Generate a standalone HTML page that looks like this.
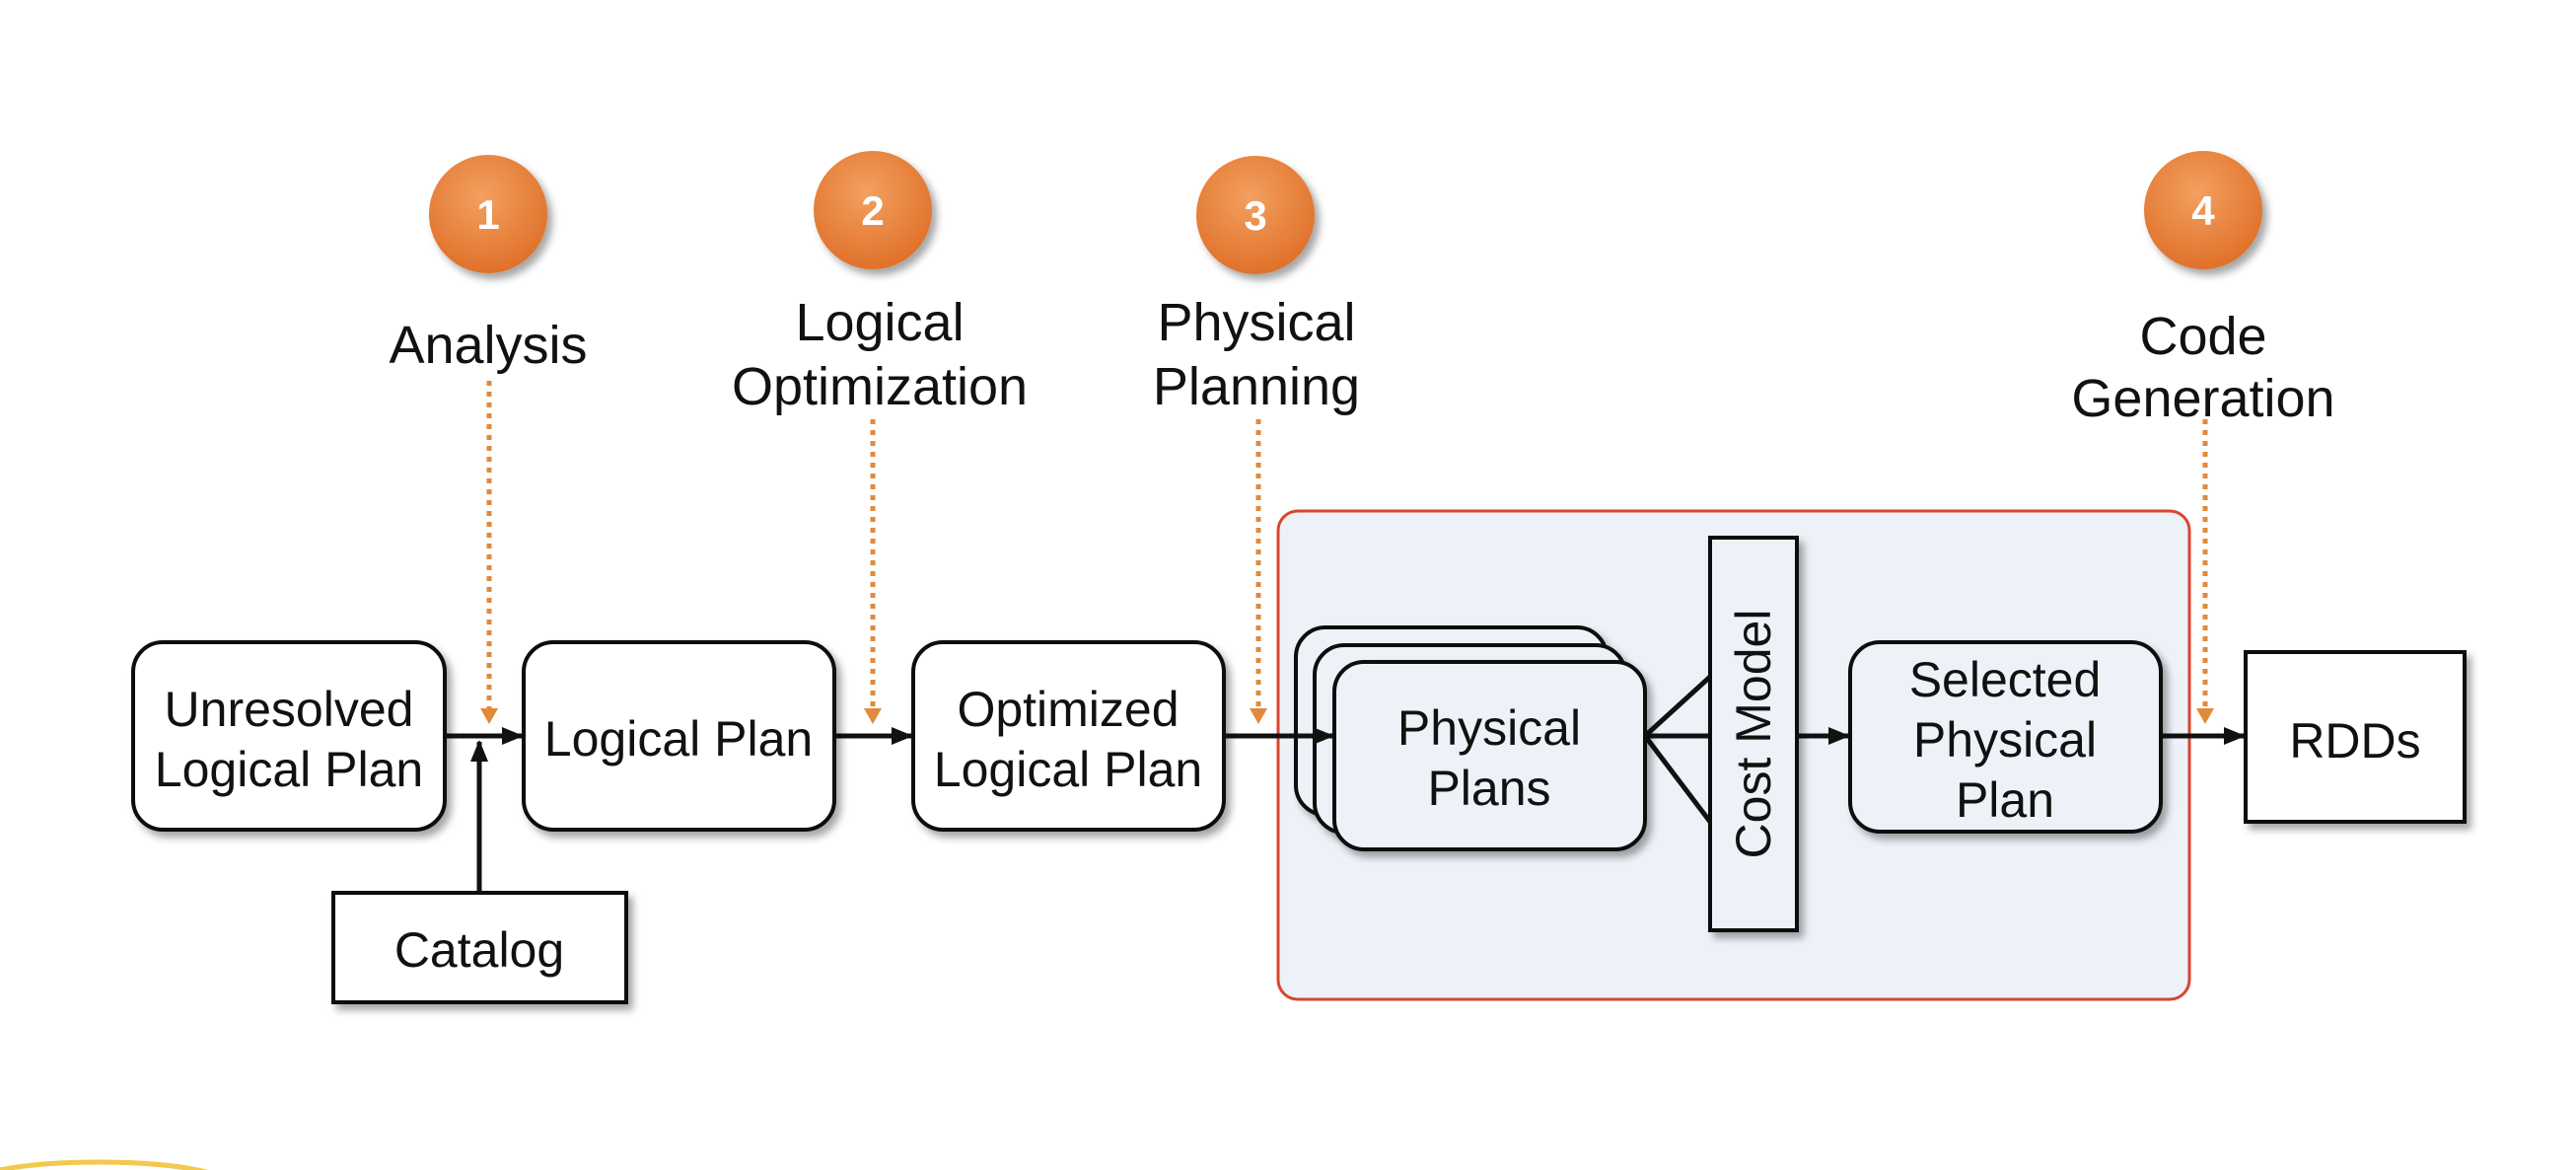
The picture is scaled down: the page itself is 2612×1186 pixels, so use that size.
<!DOCTYPE html>
<html><head><meta charset="utf-8"><style>
html,body{margin:0;padding:0;background:#fff;width:2612px;height:1186px;overflow:hidden}
svg{display:block}
text{font-family:"Liberation Sans",Arial,sans-serif;fill:#111}
</style></head><body>
<svg width="2612" height="1186" viewBox="0 0 2612 1186" xmlns="http://www.w3.org/2000/svg">
<defs>
<filter id="sh" x="-10%" y="-10%" width="130%" height="130%"><feDropShadow dx="5" dy="6" stdDeviation="4" flood-color="#000" flood-opacity="0.35"/></filter>
<radialGradient id="og" cx="45%" cy="35%" r="65%"><stop offset="0" stop-color="#f3a060"/><stop offset="1" stop-color="#e0712a"/></radialGradient>
<marker id="ah" markerWidth="22" markerHeight="22" refX="20" refY="11" orient="auto" markerUnits="userSpaceOnUse"><path d="M0,2 L22,11 L0,20 z" fill="#111"/></marker>
</defs>
<ellipse cx="100" cy="1200" rx="130" ry="22" fill="none" stroke="#f2c94c" stroke-width="5"/>
<g filter="url(#sh)">
<circle cx="495" cy="217" r="60" fill="url(#og)"/>
<circle cx="885" cy="213" r="60" fill="url(#og)"/>
<circle cx="1273" cy="218" r="60" fill="url(#og)"/>
<circle cx="2234" cy="213" r="60" fill="url(#og)"/>
</g>
<g font-size="42" font-weight="bold" text-anchor="middle">
<text x="495" y="232" style="fill:#fff">1</text><text x="885" y="228" style="fill:#fff">2</text><text x="1273" y="233" style="fill:#fff">3</text><text x="2234" y="228" style="fill:#fff">4</text>
</g>
<g font-size="54" text-anchor="middle">
<text x="495" y="368">Analysis</text>
<text x="892" y="345">Logical</text><text x="892" y="410">Optimization</text>
<text x="1274" y="345">Physical</text><text x="1274" y="410">Planning</text>
<text x="2234" y="359">Code</text><text x="2234" y="422">Generation</text>
</g>
<rect x="1296" y="518" width="924" height="495" rx="20" fill="#edf2f9" stroke="#d9452f" stroke-width="3"/>
<g stroke="#e08a3a" stroke-width="5" stroke-dasharray="5,6" fill="none">
<line x1="496" y1="386" x2="496" y2="718"/><line x1="885" y1="425" x2="885" y2="718"/>
<line x1="1276" y1="425" x2="1276" y2="718"/><line x1="2236" y1="425" x2="2236" y2="718"/>
</g>
<g fill="#e08a3a"><path d="M487,718 h18 l-9,16z"/><path d="M876,718 h18 l-9,16z"/><path d="M1267,718 h18 l-9,16z"/><path d="M2227,718 h18 l-9,16z"/></g>
<g stroke="#111" stroke-width="5" fill="none">
<line x1="451" y1="746" x2="529" y2="746" marker-end="url(#ah)"/>
<line x1="486" y1="905" x2="486" y2="752" marker-end="url(#ah)"/>
<line x1="846" y1="746" x2="924" y2="746" marker-end="url(#ah)"/>
<line x1="1668" y1="746" x2="1734" y2="686"/>
<line x1="1668" y1="746" x2="1734" y2="746"/>
<line x1="1668" y1="746" x2="1734" y2="833"/>
<line x1="1822" y1="746" x2="1874" y2="746" marker-end="url(#ah)"/>
<line x1="2191" y1="746" x2="2275" y2="746" marker-end="url(#ah)"/>
</g>
<g stroke="#111" stroke-width="4" filter="url(#sh)">
<rect x="135" y="651" width="316" height="190" rx="30" fill="#fff"/>
<rect x="531" y="651" width="315" height="190" rx="30" fill="#fff"/>
<rect x="926" y="651" width="315" height="190" rx="30" fill="#fff"/>
<rect x="338" y="905" width="297" height="111" fill="#fff"/>
<rect x="1314" y="636" width="315" height="190" rx="30" fill="#edf2f9"/>
<rect x="1333" y="654" width="315" height="190" rx="30" fill="#edf2f9"/>
</g>
<line x1="1241" y1="746" x2="1351" y2="746" stroke="#111" stroke-width="5" marker-end="url(#ah)"/>
<g stroke="#111" stroke-width="4" filter="url(#sh)">
<rect x="1353" y="671" width="315" height="190" rx="30" fill="#edf2f9"/>
<rect x="1734" y="545" width="88" height="398" fill="#edf2f9"/>
<rect x="1876" y="651" width="315" height="192" rx="30" fill="#edf2f9"/>
<rect x="2277" y="661" width="222" height="172" fill="#fff"/>
</g>
<g font-size="50" text-anchor="middle">
<text x="293" y="736">Unresolved</text><text x="293" y="797">Logical Plan</text>
<text x="688" y="766">Logical Plan</text>
<text x="1083" y="736">Optimized</text><text x="1083" y="797">Logical Plan</text>
<text x="486" y="980">Catalog</text>
<text x="1510" y="755">Physical</text><text x="1510" y="816">Plans</text>
<text x="1778" y="744" transform="rotate(-90 1778 744)" dy="17">Cost Model</text>
<text x="2033" y="706">Selected</text><text x="2033" y="767">Physical</text><text x="2033" y="828">Plan</text>
<text x="2388" y="768">RDDs</text>
</g>
</svg>
</body></html>
